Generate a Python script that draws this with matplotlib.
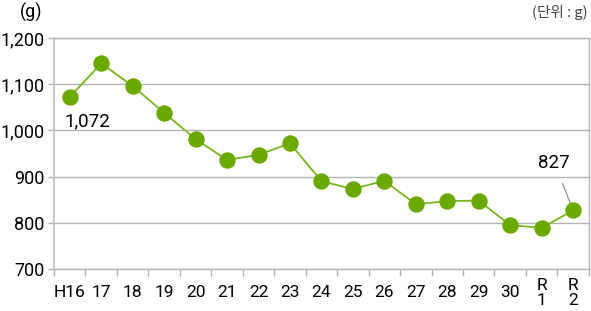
import matplotlib
matplotlib.use("Agg")
import matplotlib.pyplot as plt
import numpy as np

categories = ["H16", "17", "18", "19", "20", "21", "22", "23", "24", "25", "26", "27", "28", "29", "30", "R\n1", "R\n2"]
values = [1072, 1145, 1096, 1038, 981, 936, 947, 972, 890, 873, 891, 840, 847, 848, 795, 789, 827]
yticks = [700, 800, 900, 1000, 1100, 1200]
ytick_labels = ["700", "800", "900", "1,000", "1,100", "1,200"]

plt.rcParams['font.family'] = ['Roboto', 'DejaVu Sans']

fig = plt.figure(figsize=(5.91, 3.11), dpi=100)
ax = fig.add_axes([0.0914, 0.135, 0.905, 0.743])

x = np.arange(len(categories))
grid_c = "#b4b4b4"
ax.plot(x, values, color="#7ab51d", lw=1.3, zorder=3)
ax.plot(x, values, 'o', color="#6aa900", ms=10.8, mec="#6aa900", zorder=4)

ax.set_xlim(-0.5, len(categories) - 0.5)
ax.set_ylim(700, 1200)
ax.set_yticks(yticks)
ax.set_yticklabels(ytick_labels, fontsize=13)
ax.yaxis.grid(True, color=grid_c, lw=1)
ax.set_axisbelow(True)

ax.set_xticks(x)
ax.set_xticklabels(categories, fontsize=12.5, linespacing=1.0)
for lab in ax.get_xticklabels():
    lab.set_va('center')
ax.set_xticks(np.arange(-0.5, len(categories), 1), minor=True)
ax.tick_params(axis='x', which='major', length=0, pad=17)
ax.tick_params(axis='x', which='minor', length=5, color=grid_c, width=1)
ax.tick_params(axis='y', length=4, color=grid_c, width=1, pad=3)

for s in ["left"]:
    ax.spines[s].set_color("#c8c8c8")
    ax.spines[s].set_linewidth(1.5)
for s in ["bottom", "top", "right"]:
    ax.spines[s].set_color(grid_c)
    ax.spines[s].set_linewidth(1)

ax.annotate("1,072", xy=(x[0], values[0]), xytext=(x[0] + 0.55, 1020),
            fontsize=13.5, ha="center", va="center")
ax.annotate("827", xy=(x[-1], values[-1]), xytext=(x[-1] - 0.6, 930),
            fontsize=13.5, ha="center", va="center",
            arrowprops=dict(arrowstyle="-", color="#888888", lw=0.8,
                            shrinkA=7, shrinkB=0))

fig.text(0.052, 0.96, "(g)", fontsize=13, ha="center", va="center")
fig.text(0.995, 0.96, "(단위 : g)", fontsize=10.5, ha="right", va="center",
         color="#444444", family=['Noto Sans CJK KR', 'DejaVu Sans'])

fig.savefig("out.png", dpi=100)
